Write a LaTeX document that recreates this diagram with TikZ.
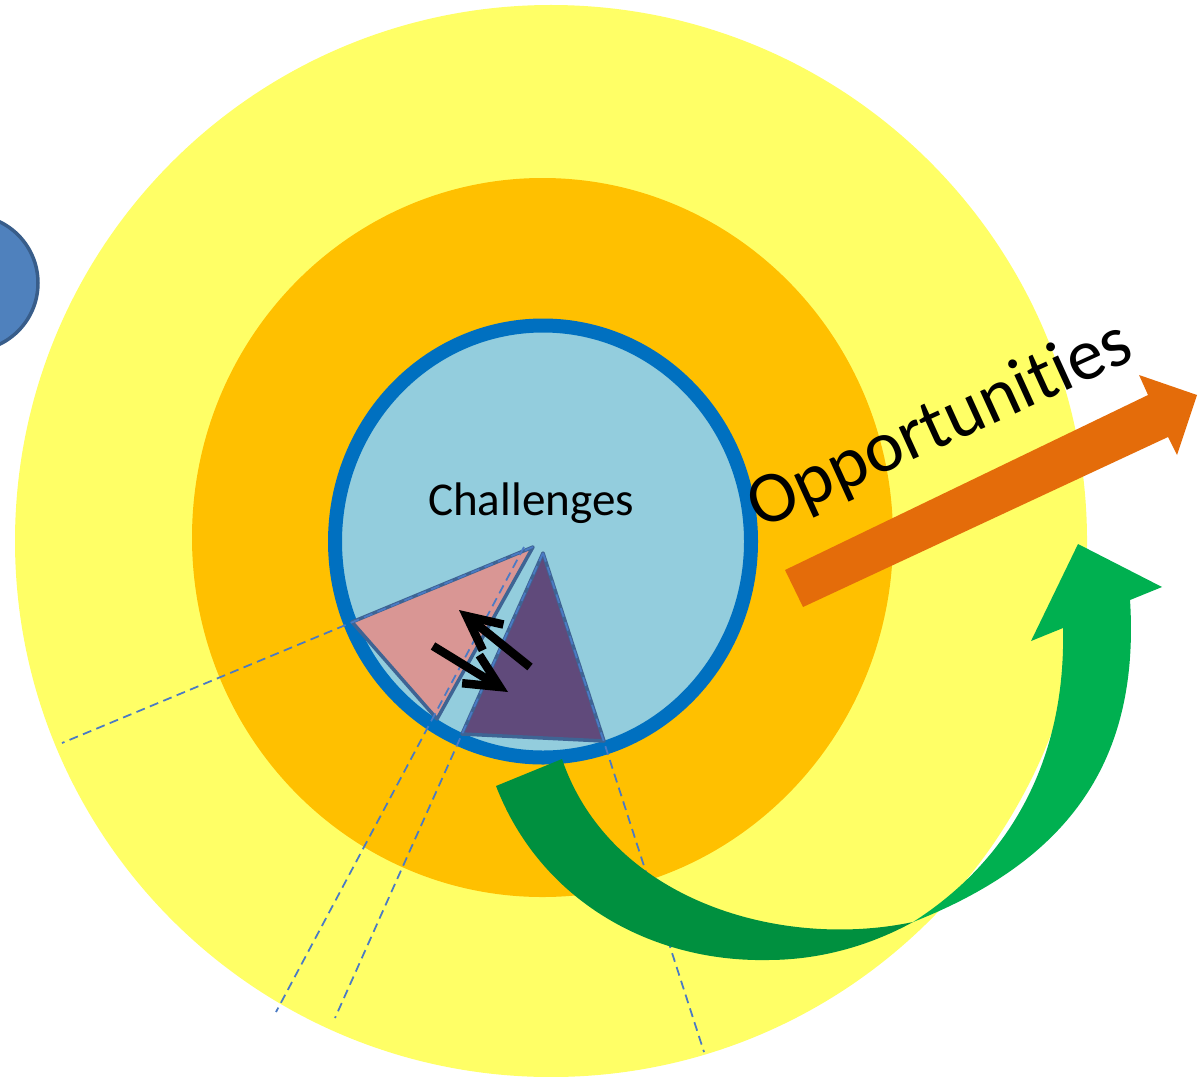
\documentclass[tikz,border=0pt]{standalone}
\usepackage{fontspec}
\setmainfont{Carlito}[RawFeature={-liga;-clig;-calt;-dlig}]
\usetikzlibrary{arrows.meta}
\definecolor{ringyellow}{HTML}{FFFF66}
\definecolor{ringorange}{HTML}{FFC000}
\definecolor{coreblue}{HTML}{93CDDD}
\definecolor{rimblue}{HTML}{0070C0}
\definecolor{sideblue}{HTML}{4F81BD}
\definecolor{sideedge}{HTML}{385D8A}
\definecolor{pinktri}{HTML}{D99694}
\definecolor{purpletri}{HTML}{604A7B}
\definecolor{tririm}{HTML}{3E6494}
\definecolor{dashblue}{HTML}{4A7AC4}
\definecolor{greendark}{HTML}{00903F}
\definecolor{greenlight}{HTML}{00B050}
\definecolor{arroworange}{HTML}{E46C0A}
\begin{document}
\begin{tikzpicture}[x=0.1mm, y=-0.1mm,
  dashline/.style={dashblue, line width=0.5pt, dash pattern=on 0.9mm off 0.55mm},
  triedge/.style={draw=tririm, line width=0.35mm, line join=round},
  swaparrow/.style={black, line width=0.85mm, -{Straight Barb[length=3.4mm, width=3.3mm]}}]
\useasboundingbox (0,0) rectangle (1201,1076);
\fill[ringyellow] (551,541) circle [radius=536];
\fill[ringorange] (542.5,537.5) ellipse [x radius=350.5, y radius=359.5];
\filldraw[fill=coreblue, draw=rimblue, line width=1.4mm] (543,541.5) ellipse [x radius=208, y radius=216];
\filldraw[fill=sideblue, draw=sideedge, line width=0.35mm] (-30,283) circle [radius=68];

\coordinate (p1) at (533,547);
\coordinate (p2) at (352,622);
\coordinate (p3) at (437,719);
\coordinate (q1) at (543,553);
\coordinate (q2) at (462,734);
\coordinate (q3) at (604,741);
\filldraw[fill=pinktri, triedge] (p1) -- (p2) -- (p3) -- cycle;
\filldraw[fill=purpletri, triedge] (q1) -- (q2) -- (q3) -- cycle;

\coordinate (d0) at (524,547);
\coordinate (d1) at (62,743);
\coordinate (d2) at (276,1012);
\coordinate (d3) at (335,1018);
\coordinate (d4) at (704,1052);
\draw[dashline] (p1) -- (d1);
\draw[dashline] (d0) -- (d2);
\draw[dashline] (q1) -- (d3);
\draw[dashline] (q1) -- (d4);

\fill[greendark] (496,786) .. controls (540,900) and (650,962) .. (767,960)
  .. controls (830,960) and (880,940) .. (913,922)
  .. controls (780,950) and (610,900) .. (562,759) -- cycle;
\fill[greenlight] (913,922) .. controls (1070,860) and (1140,760) .. (1130,600)
  -- (1162,587) -- (1078,544) -- (1031,641) -- (1063,628)
  .. controls (1066,760) and (1010,860) .. (913,922) -- cycle;

\fill[arroworange] (785,570) -- (1148,395) -- (1139,375) -- (1197,395)
  -- (1177,455) -- (1168,437) -- (803,607) -- cycle;

\node[font=\fontsize{13.4}{16}\selectfont, anchor=base, inner sep=0] (chal) at (531,515) {Challenges};
\node[font=\fontsize{20.8}{25}\selectfont, anchor=base west, inner sep=0, rotate=24.5] (opp) at (760,530) {Opportunities};

\coordinate (a1) at (530,667);
\coordinate (a2) at (459,610);
\coordinate (b1) at (433,646);
\coordinate (b2) at (508,692);
\draw[swaparrow] (a1) -- (a2);
\draw[swaparrow] (b1) -- (b2);
\end{tikzpicture}
\end{document}
